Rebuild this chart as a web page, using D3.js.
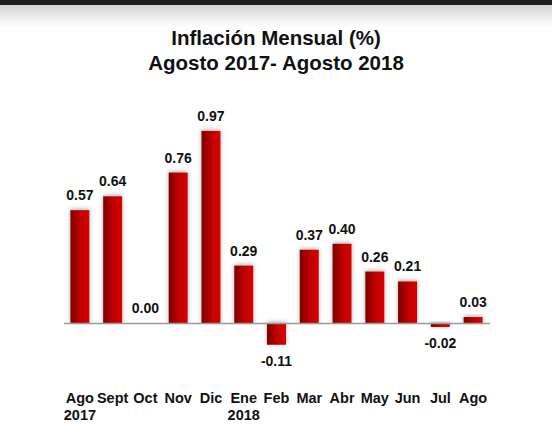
<!DOCTYPE html>
<html>
<head>
<meta charset="utf-8">
<script src="https://cdn.jsdelivr.net/npm/d3@7"></script>
<style>
  body { margin: 0; background: #fff; }
  svg { display: block; }
</style>
</head>
<body>
<div id="chart"></div>
<script>
const months = ['Ago', 'Sept', 'Oct', 'Nov', 'Dic', 'Ene', 'Feb', 'Mar', 'Abr', 'May', 'Jun', 'Jul', 'Ago '];
const years = ['2017', '', '', '', '', '2018', '', '', '', '', '', '', ''];
const inflation = [0.57, 0.64, 0.00, 0.76, 0.97, 0.29, -0.11, 0.37, 0.40, 0.26, 0.21, -0.02, 0.03];
const titleLines = ['Inflación Mensual (%)', 'Agosto 2017- Agosto 2018'];

const width = 552;
const height = 438;
const font = 'Arial, "Liberation Sans", sans-serif';

const svg = d3.select('#chart').append('svg')
  .attr('width', width)
  .attr('height', height);

const defs = svg.append('defs');

const topFade = defs.append('linearGradient')
  .attr('id', 'topFade')
  .attr('x1', 0).attr('y1', 0).attr('x2', 0).attr('y2', 1);
topFade.append('stop').attr('offset', '0%').attr('stop-color', '#d4d4d4');
topFade.append('stop').attr('offset', '100%').attr('stop-color', '#ffffff');

const barFill = defs.append('linearGradient')
  .attr('id', 'barFill')
  .attr('x1', 0).attr('y1', 0).attr('x2', 1).attr('y2', 0);
barFill.append('stop').attr('offset', '0%').attr('stop-color', '#7e0000');
barFill.append('stop').attr('offset', '55%').attr('stop-color', '#c20000');
barFill.append('stop').attr('offset', '100%').attr('stop-color', '#d80000');

const shadow = defs.append('filter')
  .attr('id', 'shadow')
  .attr('x', '-50%').attr('y', '-50%').attr('width', '200%').attr('height', '200%');
shadow.append('feDropShadow')
  .attr('dx', 0).attr('dy', -1)
  .attr('stdDeviation', 2.2)
  .attr('flood-color', '#555')
  .attr('flood-opacity', 0.5);

// page header strip
svg.append('rect')
  .attr('x', 0).attr('y', 5).attr('width', width).attr('height', 22)
  .attr('fill', 'url(#topFade)');
svg.append('rect')
  .attr('x', 0).attr('y', 0).attr('width', width).attr('height', 5)
  .attr('fill', '#1e1e1e');

svg.append('g').selectAll('text')
  .data(titleLines)
  .enter().append('text')
  .attr('x', 276)
  .attr('y', (d, i) => 45 + i * 25)
  .attr('text-anchor', 'middle')
  .style('font-family', font)
  .style('font-weight', 'bold')
  .style('font-size', '20.5px')
  .style('fill', '#111')
  .text(d => d);

const x = d3.scaleBand()
  .domain(d3.range(months.length))
  .range([63.5, 489.5])
  .paddingInner(0.42)
  .paddingOuter(0.21);

const y = d3.scaleLinear()
  .domain([0, 1])
  .range([323, 125]);

svg.append('g').selectAll('rect')
  .data(inflation)
  .enter().append('rect')
  .attr('class', 'bar')
  .attr('x', (d, i) => x(i))
  .attr('y', d => y(Math.max(0, d)))
  .attr('width', x.bandwidth())
  .attr('height', d => Math.abs(y(d) - y(0)))
  .attr('fill', 'url(#barFill)')
  .attr('filter', 'url(#shadow)');

const axis = svg.append('g')
  .attr('transform', `translate(0,${y(0)})`)
  .call(d3.axisBottom(x).tickSize(0).tickFormat(''));
axis.select('.domain')
  .attr('stroke', '#9a9a9a')
  .attr('stroke-width', 1.6);

svg.append('g').selectAll('text')
  .data(inflation)
  .enter().append('text')
  .attr('x', (d, i) => x(i) + x.bandwidth() / 2)
  .attr('y', d => d < 0 ? y(d) + 21 : y(d) - 10)
  .attr('text-anchor', 'middle')
  .style('font-family', font)
  .style('font-weight', 'bold')
  .style('font-size', '14px')
  .style('fill', '#111')
  .text(d => d3.format('.2f')(d).replace('−', '-'));

const cats = svg.append('g').selectAll('g')
  .data(months)
  .enter().append('g')
  .attr('transform', (d, i) => `translate(${x(i) + x.bandwidth() / 2},0)`);

cats.append('text')
  .attr('y', 403)
  .attr('text-anchor', 'middle')
  .style('font-family', font)
  .style('font-weight', 'bold')
  .style('font-size', '14.5px')
  .style('fill', '#111')
  .text(d => d.trim());

cats.append('text')
  .attr('y', 420)
  .attr('text-anchor', 'middle')
  .style('font-family', font)
  .style('font-weight', 'bold')
  .style('font-size', '14.5px')
  .style('fill', '#111')
  .text((d, i) => years[i]);
</script>
</body>
</html>
